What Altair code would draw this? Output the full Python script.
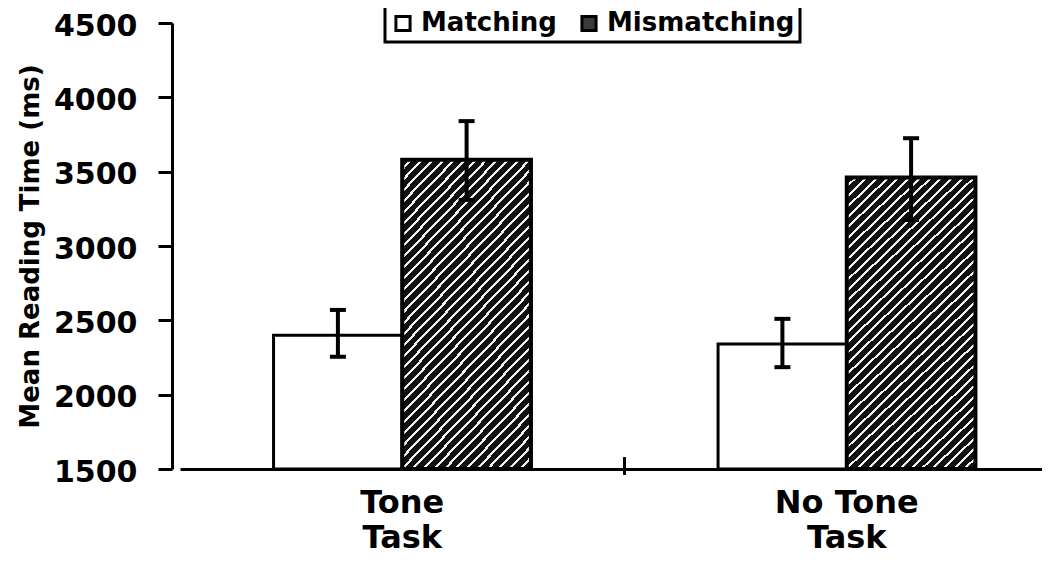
import altair as alt
import pandas as pd

groups = ["Tone Task", "Tone Task", "No Tone Task", "No Tone Task"]
conditions = ["Matching", "Mismatching", "Matching", "Mismatching"]
means = [2400, 3580, 2340, 3460]
lower = [2255, 3310, 2185, 3175]
upper = [2570, 3840, 2510, 3725]
group_order = ["Tone Task", "No Tone Task"]
cond_order = ["Matching", "Mismatching"]
y_ticks = [1500, 2000, 2500, 3000, 3500, 4000, 4500]
boundary = ["No Tone Task"]

df = pd.DataFrame({"group": groups, "cond": conditions, "mean": means,
                   "lo": lower, "hi": upper})
bdf = pd.DataFrame({"group": boundary})

FONT = "DejaVu Sans"

# hatching via a hard-stop linear gradient
N = 40
stops = []
for k in range(N):
    stops += [
        alt.GradientStop(offset=k / N, color="#111111"),
        alt.GradientStop(offset=(k + 0.72) / N, color="#111111"),
        alt.GradientStop(offset=(k + 0.72) / N, color="#f2f2f2"),
        alt.GradientStop(offset=(k + 1) / N, color="#f2f2f2"),
    ]
hatch = alt.LinearGradient(gradient="linear", stops=stops, x1=0, y1=0, x2=0.52, y2=1.21)

x_scale = alt.Scale(domain=group_order, range=[0, 889], paddingInner=0, paddingOuter=0)
x_enc = alt.X("group:N", sort=group_order, title=None, scale=x_scale,
              axis=alt.Axis(labelExpr="datum.value == 'Tone Task' ? ['Tone', 'Task'] : ['No Tone', 'Task']",
                            labelFont=FONT, labelFontSize=32, labelFontWeight="bold",
                            labelColor="black", labelPadding=18, labelLineHeight=35,
                            labelAngle=0, ticks=False,
                            domainColor="black", domainWidth=3))
xo_enc = alt.XOffset("cond:N", sort=cond_order,
                     scale=alt.Scale(paddingOuter=0.727, paddingInner=0))
y_scale = alt.Scale(domain=[1500, 4500], nice=False)
y_enc = alt.Y("mean:Q", scale=y_scale, title="Mean Reading Time (ms)",
              axis=alt.Axis(values=y_ticks, format="d", labelFont=FONT, labelFontSize=30,
                            labelFontWeight="bold", labelColor="black", labelPadding=21,
                            labelOffset=3,
                            tickSize=14, tickWidth=3, tickColor="black", offset=8,
                            domainColor="black", domainWidth=3, grid=False,
                            titleFont=FONT, titleFontSize=26, titleFontWeight="bold",
                            titleColor="black", titlePadding=10))

bars = alt.Chart(df).mark_bar(stroke="black", strokeWidth=3).encode(
    x=x_enc, xOffset=xo_enc, y=y_enc, y2=alt.datum(1500),
    fill=alt.Fill("cond:N", sort=cond_order,
                  scale=alt.Scale(domain=cond_order, range=["white", "#3a3a3a"]),
                  legend=alt.Legend(title=None, orient="none", legendX=205, legendY=-18,
                                    direction="horizontal", symbolType="square",
                                    symbolSize=200, symbolStrokeColor="black",
                                    symbolStrokeWidth=3, labelFont=FONT, labelFontSize=26,
                                    labelFontWeight="bold", labelColor="black",
                                    labelLimit=400, strokeColor="black", padding=5,
                                    columnPadding=18, labelOffset=5)))

hatched = alt.Chart(df).transform_filter(alt.datum.cond == "Mismatching").mark_bar(
    fill=hatch, stroke="black", strokeWidth=4).encode(
    x=x_enc, xOffset=xo_enc, y=y_enc, y2=alt.datum(1500))

err = alt.Chart(df).mark_rule(color="black", strokeWidth=4, opacity=1).encode(
    x=x_enc, xOffset=xo_enc, y=alt.Y("lo:Q", scale=y_scale), y2="hi:Q")
cap_lo = alt.Chart(df).mark_tick(color="black", thickness=4, size=16, opacity=1,
                                 orient="horizontal").encode(
    x=x_enc, xOffset=xo_enc, y=alt.Y("lo:Q", scale=y_scale))
cap_hi = alt.Chart(df).mark_tick(color="black", thickness=4, size=16, opacity=1,
                                 orient="horizontal").encode(
    x=x_enc, xOffset=xo_enc, y=alt.Y("hi:Q", scale=y_scale))

sep = alt.Chart(bdf).mark_rule(color="black", strokeWidth=3).encode(
    x=alt.X("group:N", sort=group_order, scale=x_scale, bandPosition=0),
    y=alt.datum(1580), y2=alt.datum(1460))

chart = alt.layer(bars, hatched, err, cap_lo, cap_hi, sep).properties(
    width=860, height=446, autosize="none",
    padding={"left": 172, "top": 15, "right": 2, "bottom": 90},
    background="white",
).configure_view(stroke=None).configure_legend(strokeWidth=3)

chart.save("out.html", embed_options={"renderer": "svg", "actions": False})
